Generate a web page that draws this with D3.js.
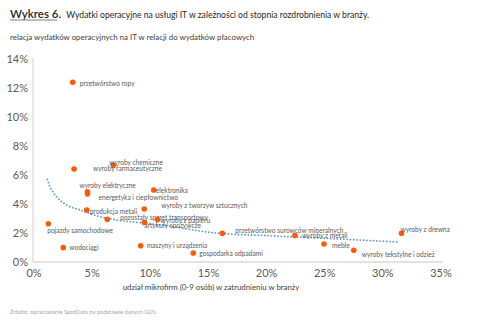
<!DOCTYPE html>
<html>
<head>
<meta charset="utf-8">
<script src="https://cdn.jsdelivr.net/npm/d3@7"></script>
<style>
  body { margin: 0; background: #fff; }
  svg { font-family: Lato, "Open Sans", sans-serif; }
</style>
</head>
<body>
<div id="chart"></div>
<script>
// data
var branches = ["przetwórstwo ropy", "wyroby chemiczne", "wyroby farmaceutyczne",
  "wyroby elektryczne", "energetyka i ciepłownictwo", "elektronika",
  "wyroby z tworzyw sztucznych", "produkcja metali", "pozostały sprzęt transportowy",
  "wyroby z papieru", "artykuły spożywcze", "pojazdy samochodowe", "wodociągi",
  "maszyny i urządzenia", "gospodarka odpadami", "przetwórstwo surowców mineralnych",
  "wyroby z metali", "meble", "wyroby tekstylne i odzież", "wyroby z drewna"];
var microShare = [3.33, 6.82, 3.44, 4.6, 4.6, 10.3, 9.48, 4.53, 6.3, 10.62, 9.48, 1.23,
  2.52, 9.17, 13.7, 16.19, 22.44, 24.94, 27.5, 31.6];
var itSpend = [12.4, 6.67, 6.41, 4.85, 4.7, 4.97, 3.66, 3.59, 2.94, 2.93, 2.73, 2.64,
  0.99, 1.12, 0.62, 1.98, 1.82, 1.24, 0.81, 1.98];

// dotted trend line
var trendX = [1.14, 1.38, 1.95, 2.81, 3.96, 5.39, 7.11, 9.11, 11.12, 15.39, 20.29, 25.45, 31.3];
var trendY = [5.70, 5.19, 4.50, 3.93, 3.59, 3.19, 2.90, 2.71, 2.53, 2.02, 1.81, 1.62, 1.38];

var xTicks = [0, 5, 10, 15, 20, 25, 30, 35];
var yTicks = [0, 2, 4, 6, 8, 10, 12, 14];

// label nudges in px (dx from point, dy of text middle from point)
var labelNudge = [[7, 1], [-4, -3], [19, 0], [-8, -6], [11, 4], [2, 1], [17, -3], [3, 2],
  [13, -2], [3, 1.5], [0, 3.5], [-1, 6.5], [6, 0], [6, 0], [6, 1], [13, -2.5],
  [7, 0.5], [8, 2], [8, 4], [-1, -3.5]];

var svgWidth = 480;
var svgHeight = 323;

var svg = d3.select("#chart")
  .append("svg")
  .attr("width", svgWidth)
  .attr("height", svgHeight);

var xScale = d3.scaleLinear().domain([0, 35]).range([34, 441]);
var yScale = d3.scaleLinear().domain([0, 14]).range([262, 59]);

// title block
var title = svg.append("text").attr("x", 10).attr("y", 18).attr("fill", "#262626");
title.append("tspan").attr("font-size", 11.5).attr("font-weight", 600).text("Wykres 6.");
title.append("tspan").attr("dx", 5).attr("font-size", 8.6)
  .text("Wydatki operacyjne na usługi IT w zależności od stopnia rozdrobnienia w branży.");
svg.append("line")
  .attr("x1", 10).attr("x2", 57).attr("y1", 20).attr("y2", 20)
  .attr("stroke", "#7f7f7f").attr("stroke-width", 1);

svg.append("text")
  .attr("x", 10).attr("y", 39.5)
  .attr("font-size", 7.9).attr("fill", "#404040")
  .text("relacja wydatków operacyjnych na IT w relacji do wydatków płacowych");

// axes lines
svg.append("line")
  .attr("x1", 33).attr("x2", 33).attr("y1", yScale(14) - 1).attr("y2", yScale(0))
  .attr("stroke", "#d9d9d9").attr("stroke-width", 1.2);
svg.append("line")
  .attr("x1", 33).attr("x2", xScale(35) + 2).attr("y1", yScale(0)).attr("y2", yScale(0))
  .attr("stroke", "#d9d9d9").attr("stroke-width", 1.5);

// tick labels
svg.append("g").selectAll("text")
  .data(yTicks)
  .enter()
  .append("text")
  .attr("x", 28)
  .attr("y", d => yScale(d) + 4)
  .attr("text-anchor", "end")
  .attr("font-size", 11)
  .attr("fill", "#595959")
  .text(d => d + "%");

svg.append("g").selectAll("text")
  .data(xTicks)
  .enter()
  .append("text")
  .attr("x", d => xScale(d))
  .attr("y", 277)
  .attr("text-anchor", "middle")
  .attr("font-size", 11)
  .attr("fill", "#595959")
  .text(d => d + "%");

svg.append("text")
  .attr("x", 211).attr("y", 290)
  .attr("text-anchor", "middle")
  .attr("font-size", 7.8).attr("fill", "#404040")
  .text("udział mikrofirm (0-9 osób) w zatrudnieniu w branży");

svg.append("text")
  .attr("x", 10).attr("y", 314)
  .attr("font-size", 5.8).attr("fill", "#a6a6a6")
  .text("Źródło: opracowanie SpotData na podstawie danych  GUS");

// trend line
var trend = d3.line()
  .x((d, i) => xScale(trendX[i]))
  .y((d, i) => yScale(trendY[i]))
  .curve(d3.curveMonotoneX);

svg.append("path")
  .attr("d", trend(trendX))
  .attr("fill", "none")
  .attr("stroke", "#5b9bd5")
  .attr("stroke-width", 1.8)
  .attr("stroke-linecap", "round")
  .attr("stroke-dasharray", "0.1,3.2");

// points + labels
var pts = svg.append("g").selectAll("g")
  .data(branches)
  .enter()
  .append("g");

pts.append("circle")
  .attr("cx", (d, i) => xScale(microShare[i]))
  .attr("cy", (d, i) => yScale(itSpend[i]))
  .attr("r", 2.8)
  .attr("fill", "#ff5a00");

pts.append("text")
  .attr("x", (d, i) => xScale(microShare[i]) + labelNudge[i][0])
  .attr("y", (d, i) => yScale(itSpend[i]) + labelNudge[i][1] + 2.3)
  .attr("font-size", 6.6)
  .attr("fill", "#595959")
  .text(d => d);
</script>
</body>
</html>
